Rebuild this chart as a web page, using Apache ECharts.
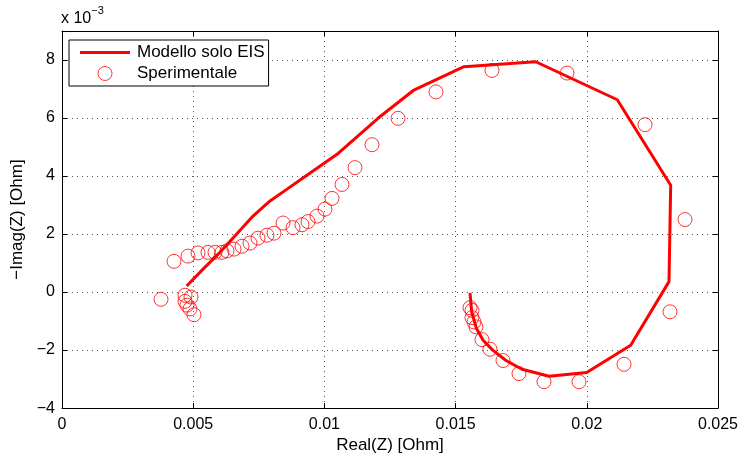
<!DOCTYPE html>
<html>
<head>
<meta charset="utf-8">
<script src="https://cdn.jsdelivr.net/npm/echarts@6/dist/echarts.min.js"></script>
<style>
  html, body { margin: 0; padding: 0; background: #fff; }
  #main { width: 742px; height: 459px; }
</style>
</head>
<body>
<div id="main"></div>
<script>
// Modello solo EIS (Re in Ohm, -Im in 1e-3 Ohm)
const modelRe = [0.004752, 0.005385, 0.006021, 0.006658, 0.007290, 0.007927, 0.008563, 0.009196,
  0.010469, 0.012054, 0.013388, 0.015320, 0.018053, 0.021162, 0.023197, 0.023133, 0.021673,
  0.019996, 0.018560, 0.017530, 0.016921, 0.016425, 0.016056, 0.015796, 0.015614, 0.015549]
const modelIm = [0.21, 0.80, 1.37, 2.00, 2.63, 3.14, 3.54, 3.94,
  4.74, 6.00, 6.95, 7.77, 7.94, 6.63, 3.68, 0.36, -1.83,
  -2.77, -2.90, -2.66, -2.36, -2.01, -1.67, -1.26, -0.68, -0.03]

// Sperimentale
const expRe = [0.015549, 0.015625, 0.015625, 0.015701, 0.015777, 0.016006, 0.016311, 0.016806,
  0.017416, 0.018369, 0.019703, 0.021418, 0.023171, 0.023742, 0.022218, 0.019245, 0.016387,
  0.014253, 0.012805, 0.011814, 0.011166, 0.010671, 0.010290, 0.010023, 0.009718, 0.009375,
  0.009146, 0.008803, 0.008422, 0.008079, 0.007812, 0.007470, 0.007165, 0.006860, 0.006555,
  0.006288, 0.006098, 0.005831, 0.005564, 0.005183, 0.004802, 0.004268, 0.003773, 0.004688,
  0.004916, 0.004688, 0.004764, 0.004878, 0.005030]
const expIm = [-0.54, -0.63, -0.88, -1.03, -1.20, -1.64, -1.97, -2.36,
  -2.81, -3.09, -3.09, -2.49, -0.68, 2.50, 5.77, 7.55, 7.64,
  6.90, 5.99, 5.08, 4.29, 3.71, 3.23, 2.86, 2.62, 2.43,
  2.32, 2.22, 2.38, 2.03, 1.96, 1.86, 1.69, 1.58, 1.48,
  1.42, 1.37, 1.37, 1.37, 1.35, 1.24, 1.06, -0.25, -0.11,
  -0.17, -0.32, -0.45, -0.58, -0.78]

const xTicks = { min: 0, max: 0.025, interval: 0.005 }
const yTicks = { min: -4, max: 9, interval: 2 }

const font = 'Liberation Sans, Arial, Helvetica, sans-serif'
const red = '#ff0000'

const chart = echarts.init(document.getElementById('main'))

const gridLine = { show: true, lineStyle: { color: '#555', type: [1, 4], width: 1 } }
const boxLine = { show: true, onZero: false, lineStyle: { color: '#000', width: 1 } }
const tick = { show: true, inside: true, length: 5, lineStyle: { color: '#000' } }

chart.setOption({
  animation: false,
  textStyle: { fontFamily: font },
  grid: { left: 62, right: 24, top: 31, bottom: 49 },
  legend: {
    left: 69, top: 40,
    orient: 'vertical',
    itemWidth: 50, itemHeight: 14, itemGap: 4,
    padding: [4, 4, 4, 11],
    borderColor: '#000', borderWidth: 1,
    backgroundColor: '#fff',
    textStyle: { fontSize: 17, color: '#000', fontFamily: font, padding: [0, 0, 0, 2] },
    data: [
      { name: 'Modello solo EIS', icon: 'path://M0,0L50,0L50,3L0,3Z' },
      {
        name: 'Sperimentale', icon: 'circle',
        itemStyle: { color: '#fff', borderColor: red, borderWidth: 1 }
      }
    ]
  },
  graphic: [
    {
      type: 'text', left: 61, top: 5,
      style: {
        text: '{a|x 10}{b|−3}',
        rich: {
          a: { fontSize: 16, fontFamily: font, fill: '#000', padding: [6, 0, 0, 0] },
          b: { fontSize: 11, fontFamily: font, fill: '#000', verticalAlign: 'top', padding: [0, 0, 8, 0] }
        }
      }
    }
  ],
  xAxis: [
    {
      type: 'value', min: xTicks.min, max: xTicks.max, interval: xTicks.interval,
      name: 'Real(Z) [Ohm]', nameLocation: 'middle', nameGap: 25,
      nameTextStyle: { fontSize: 17, color: '#000', fontFamily: font },
      axisLine: boxLine, axisTick: tick, splitLine: gridLine,
      axisLabel: { fontSize: 16, color: '#000', margin: 8 }
    },
    {
      type: 'value', position: 'top', min: xTicks.min, max: xTicks.max, interval: xTicks.interval,
      axisLine: boxLine, axisTick: tick, splitLine: { show: false }, axisLabel: { show: false }
    }
  ],
  yAxis: [
    {
      type: 'value', min: yTicks.min, max: yTicks.max, interval: yTicks.interval,
      name: '−Imag(Z) [Ohm]', nameLocation: 'middle', nameGap: 36,
      nameTextStyle: { fontSize: 17, color: '#000', fontFamily: font },
      axisLine: boxLine, axisTick: tick, splitLine: gridLine,
      axisLabel: {
        fontSize: 16, color: '#000', margin: 7,
        formatter: v => (v > 8 ? '' : (v < 0 ? '−' + Math.abs(v) : String(v)))
      }
    },
    {
      type: 'value', position: 'right', min: yTicks.min, max: yTicks.max, interval: yTicks.interval,
      axisLine: boxLine, axisTick: tick, splitLine: { show: false }, axisLabel: { show: false }
    }
  ],
  series: [
    {
      name: 'Modello solo EIS',
      type: 'line',
      data: modelRe.map((x, i) => [x, modelIm[i]]),
      showSymbol: false, symbol: 'none',
      lineStyle: { color: red, width: 3 },
      itemStyle: { color: red },
      z: 3
    },
    {
      name: 'Sperimentale',
      type: 'scatter',
      data: expRe.map((x, i) => [x, expIm[i]]),
      symbol: 'circle', symbolSize: 14,
      itemStyle: { color: 'rgba(255,255,255,0)', borderColor: red, borderWidth: 1 },
      z: 2
    }
  ]
})
</script>
</body>
</html>
